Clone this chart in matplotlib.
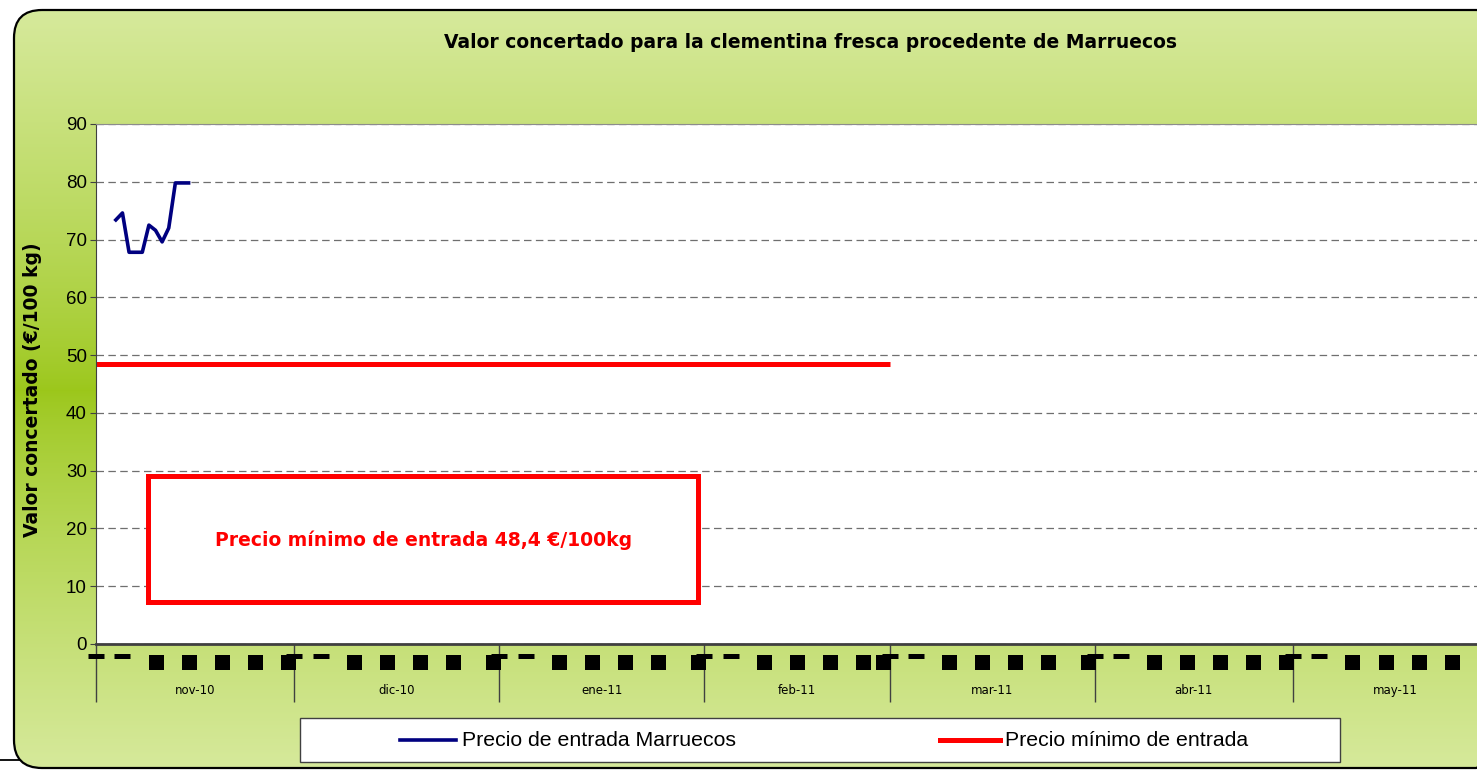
import numpy as np
import matplotlib
matplotlib.use('Agg')
import matplotlib.pyplot as plt
from matplotlib.patches import FancyBboxPatch, Rectangle

plt.rcParams['font.family'] = ['Liberation Sans', 'DejaVu Sans']

# Data
meses = ['nov-10', 'dic-10', 'ene-11', 'feb-11', 'mar-11', 'abr-11', 'may-11']
dias_mes = [30, 31, 31, 28, 31, 30, 31]

# days counted from 1 Nov 2010
dias_precio = [3, 4, 5, 6, 7, 8, 9, 10, 11, 12, 13, 14]
precio_marruecos = [73.4, 74.6, 67.8, 67.8, 67.8, 72.5, 71.6, 69.6, 72.0, 79.8, 79.8, 79.8]

dias_minimo = [0, 120]
precio_minimo = [48.4, 48.4]

# black marks under the axis (day of month)
marcas_finas = [1, 5]
marcas_gruesas = [10, 15, 20, 25]

W, H = 1477, 770
fig = plt.figure(figsize=(W / 100, H / 100), dpi=100)

# Background panel (pixel coordinates)
bg = fig.add_axes([0, 0, 1, 1], zorder=0)
bg.set_xlim(0, W)
bg.set_ylim(H, 0)
bg.axis('off')

light = np.array([0.840, 0.915, 0.610])
dark = np.array([0.610, 0.780, 0.105])
yy = np.arange(H)
d = np.clip(np.abs(yy - 390) / 380.0, 0, 1) ** 0.8
grad = light[None, :] * d[:, None] + dark[None, :] * (1 - d[:, None])
grad = grad[:, None, :]

box = FancyBboxPatch((14, 10), 1490, 758, boxstyle='round,pad=0,rounding_size=28',
                     facecolor='none', edgecolor='black', linewidth=1.6, zorder=3)
im = bg.imshow(grad, extent=(0, W, H, 0), aspect='auto', zorder=1)
bg.add_patch(box)
im.set_clip_path(box)
bg.plot([0, 20], [760, 760], color='black', lw=1.3)

bold = ['DejaVu Sans']
bg.text(810, 42, 'Valor concertado para la clementina fresca procedente de Marruecos',
        ha='center', va='center', fontsize=13.5, fontweight='bold', family=bold)
bg.text(33, 390, 'Valor concertado (€/100 kg)', ha='center', va='center',
        rotation=90, fontsize=13.5, fontweight='bold', family=bold)

# Legend (drawn by hand)
bg.add_patch(Rectangle((300, 718), 1040, 44, facecolor='white', edgecolor='#404040',
                       linewidth=1, zorder=2))
bg.plot([400, 456], [740, 740], color='#000080', lw=2.6, zorder=3)
bg.text(462, 740, 'Precio de entrada Marruecos', ha='left', va='center', fontsize=15.3, zorder=3)
bg.plot([940, 1000], [740, 740], color='#ff0000', lw=3.6, zorder=3)
bg.text(1005, 740, 'Precio mínimo de entrada', ha='left', va='center', fontsize=15.3, zorder=3)

# Main plot
ax = fig.add_axes([96 / W, (H - 644) / H, (W - 96) / W, 520 / H], zorder=2)
ax.set_facecolor('white')
ax.set_xlim(0, (W - 96) / 6.613)
ax.set_ylim(0, 90)

inicios = np.concatenate([[0], np.cumsum(dias_mes)[:-1]])
centros = inicios + np.array(dias_mes) / 2

ax.set_yticks(range(0, 91, 10))
ax.tick_params(axis='y', labelsize=13.5, length=4.5, color='#404040', pad=2)
ax.yaxis.grid(True, linestyle=(0, (6, 3.5)), color='#6f6f6f', lw=0.9)
ax.set_axisbelow(True)

ax.set_xticks(inicios)
ax.set_xticklabels([])
ax.set_xticks(centros, minor=True)
ax.set_xticklabels(meses, minor=True, fontsize=8.5, family=['DejaVu Sans'])
ax.tick_params(axis='x', which='major', length=42, color='#404040', width=1)
ax.tick_params(axis='x', which='minor', length=0, pad=29)

ax.spines['top'].set_color('#8c8c8c')
ax.spines['left'].set_color('#404040')
ax.spines['bottom'].set_color('#404040')
ax.spines['bottom'].set_linewidth(2)
ax.spines['right'].set_visible(False)

ax.plot(dias_minimo, precio_minimo, color='#ff0000', lw=3.6, solid_capstyle='butt')
ax.plot(dias_precio, precio_marruecos, color='#000080', lw=2.6)

# red annotation box
ax.add_patch(Rectangle((7.9, 7.3), 83.1, 21.8, facecolor='white', edgecolor='#ff0000',
                       linewidth=3.6, zorder=4))
ax.text(49.6, 18.0, 'Precio mínimo de entrada 48,4 €/100kg', ha='center', va='center',
        color='#ff0000', fontsize=13.5, fontweight='bold', family=bold, zorder=5)

# marks under the axis
for s, n in zip(inicios, dias_mes):
    xf = [s + m - 1 for m in marcas_finas]
    xg = [s + m - 1 for m in marcas_gruesas] + [s + n - 1]
    ax.plot(xf, [-2.16] * len(xf), ls='none', marker='_', ms=11.5, mew=3.6,
            color='black', clip_on=False, zorder=6)
    ax.plot(xg, [-3.03] * len(xg), ls='none', marker='s', ms=10.8, mew=0,
            color='black', clip_on=False, zorder=6)

fig.savefig('out.png', dpi=100)
